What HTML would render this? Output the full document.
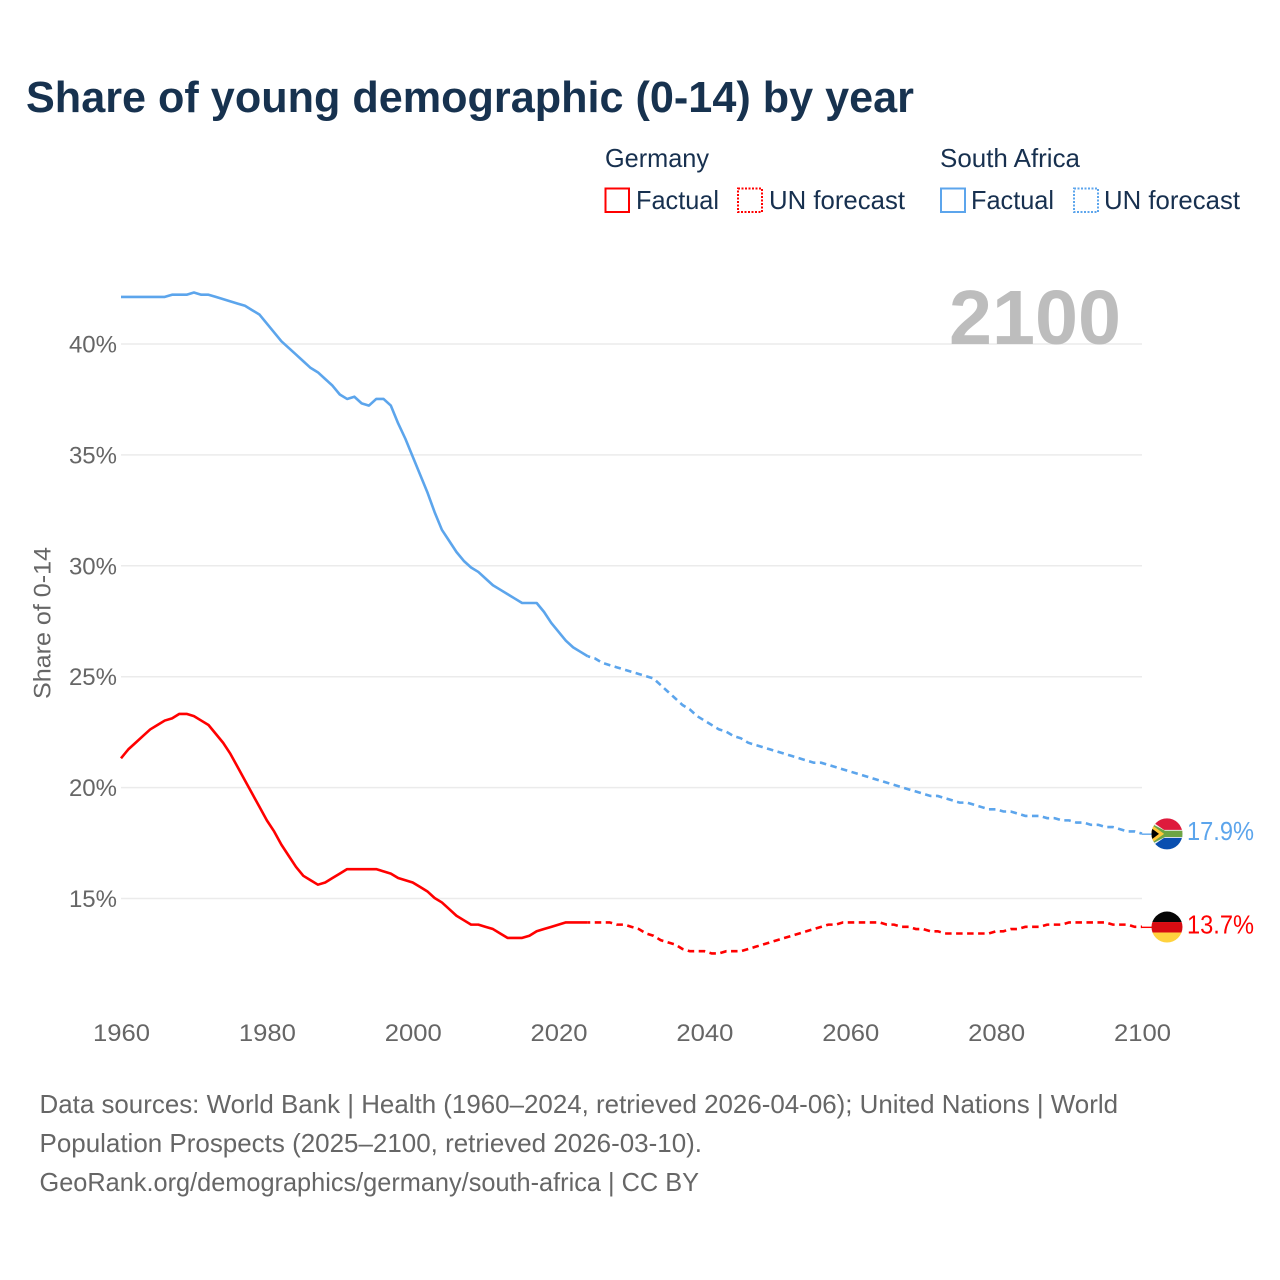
<!DOCTYPE html>
<html lang="en">
<head>
<meta charset="utf-8">
<title>Share of young demographic (0-14) by year</title>
<style>
html,body{margin:0;padding:0;background:#fff}
svg{display:block;font-family:"Liberation Sans",sans-serif}
</style>
</head>
<body>
<svg id="chart" xmlns="http://www.w3.org/2000/svg" width="1280" height="1280" viewBox="0 0 1280 1280">
  <defs>
    <clipPath id="flag-clip"><circle cx="0" cy="0" r="15.5"/></clipPath>
  </defs>
  <rect width="1280" height="1280" fill="#fff"/>

  <text x="26" y="112" font-size="44" font-weight="700" fill="#17324f" textLength="888" lengthAdjust="spacingAndGlyphs">Share of young demographic (0-14) by year</text>

  <g font-size="26" fill="#17304f">
    <text x="605" y="167" textLength="104" lengthAdjust="spacingAndGlyphs">Germany</text>
    <text x="940" y="167" textLength="140" lengthAdjust="spacingAndGlyphs">South Africa</text>
    <rect x="605.5" y="188.5" width="23.5" height="23.5" fill="none" stroke="#ff0000" stroke-width="2"/>
    <text x="636" y="209" textLength="83" lengthAdjust="spacingAndGlyphs">Factual</text>
    <rect x="738" y="188.5" width="24" height="23.5" fill="none" stroke="#ff0000" stroke-width="2" stroke-dasharray="2 1.5"/>
    <text x="769" y="209" textLength="136" lengthAdjust="spacingAndGlyphs">UN forecast</text>
    <rect x="941" y="188.5" width="24" height="23.5" fill="none" stroke="#5ca5ec" stroke-width="2"/>
    <text x="971" y="209" textLength="83" lengthAdjust="spacingAndGlyphs">Factual</text>
    <rect x="1074" y="188.5" width="24" height="23.5" fill="none" stroke="#5ca5ec" stroke-width="2" stroke-dasharray="2 1.5"/>
    <text x="1104" y="209" textLength="136" lengthAdjust="spacingAndGlyphs">UN forecast</text>
  </g>

  <g id="grid"></g>

  <text x="949" y="344" font-size="77" font-weight="700" fill="#bdbdbd" textLength="172" lengthAdjust="spacingAndGlyphs">2100</text>

  <g id="y-ticks" font-size="24" fill="#666666"></g>
  <g id="x-ticks" font-size="24" fill="#666666"></g>
  <text transform="translate(50.5,623) rotate(-90)" text-anchor="middle" font-size="24" fill="#666666" textLength="152" lengthAdjust="spacingAndGlyphs">Share of 0-14</text>

  <g id="series"></g>

  <g id="flag-za">
    <g clip-path="url(#flag-clip)">
      <rect x="-16" y="-16" width="32" height="16" fill="#de1b3d"/>
      <rect x="-16" y="0" width="32" height="16" fill="#0a4fb0"/>
      <path d="M-16,-13 L-3,-4 H16 V4 H-3 L-16,13 Z" fill="#f2f2f2"/>
      <path d="M-16,-10 L-2,-2.6 H16 V2.6 H-2 L-16,10 Z" fill="#6da544" stroke="#6da544" stroke-width="1"/>
      <path d="M-16,-8 L-5,0 L-16,8 Z" fill="#ffc73a" stroke="#ffc73a" stroke-width="2.5"/>
      <path d="M-16,-6 L-8,0 L-16,6 Z" fill="#000"/>
    </g>
  </g>
  <g id="flag-de">
    <g clip-path="url(#flag-clip)">
      <rect x="-16" y="-16" width="32" height="11" fill="#050505"/>
      <rect x="-16" y="-5" width="32" height="10.5" fill="#d80c12"/>
      <rect x="-16" y="5.5" width="32" height="11" fill="#ffd23e"/>
    </g>
  </g>
  <text id="value-za" x="1187" font-size="26" fill="#5ca5ec" textLength="67" lengthAdjust="spacingAndGlyphs"></text>
  <text id="value-de" x="1187" font-size="26" fill="#ff0000" textLength="67" lengthAdjust="spacingAndGlyphs"></text>

  <g font-size="26" fill="#666666">
    <text x="39.5" y="1113" textLength="1078.5" lengthAdjust="spacingAndGlyphs">Data sources: World Bank | Health (1960–2024, retrieved 2026-04-06); United Nations | World</text>
    <text x="39.5" y="1152" textLength="662.5" lengthAdjust="spacingAndGlyphs">Population Prospects (2025–2100, retrieved 2026-03-10).</text>
    <text x="39.5" y="1191" textLength="659.5" lengthAdjust="spacingAndGlyphs">GeoRank.org/demographics/germany/south-africa | CC BY</text>
  </g>
</svg>
<script>
const firstYear = 1960;
const lastFactualYear = 2024;
const xTickYears = [1960, 1980, 2000, 2020, 2040, 2060, 2080, 2100];
const yTickValues = [15, 20, 25, 30, 35, 40];
const southAfricaShare = [
  42.1,42.1,42.1,42.1,42.1,42.1,42.1,42.2,42.2,42.2,
  42.3,42.2,42.2,42.1,42.0,41.9,41.8,41.7,41.5,41.3,
  40.9,40.5,40.1,39.8,39.5,39.2,38.9,38.7,38.4,38.1,
  37.7,37.5,37.6,37.3,37.2,37.5,37.5,37.2,36.4,35.7,
  34.9,34.1,33.3,32.4,31.6,31.1,30.6,30.2,29.9,29.7,
  29.4,29.1,28.9,28.7,28.5,28.3,28.3,28.3,27.9,27.4,
  27.0,26.6,26.3,26.1,25.9,25.8,25.6,25.5,25.4,25.3,
  25.2,25.1,25.0,24.9,24.6,24.3,24.0,23.7,23.5,23.2,
  23.0,22.8,22.6,22.5,22.3,22.2,22.0,21.9,21.8,21.7,
  21.6,21.5,21.4,21.3,21.2,21.1,21.1,21.0,20.9,20.8,
  20.7,20.6,20.5,20.4,20.3,20.2,20.1,20.0,19.9,19.8,
  19.7,19.6,19.6,19.5,19.4,19.3,19.3,19.2,19.1,19.0,
  19.0,18.9,18.9,18.8,18.7,18.7,18.7,18.6,18.6,18.5,
  18.5,18.4,18.4,18.3,18.3,18.2,18.2,18.1,18.0,18.0,
  17.9
];
const germanyShare = [
  21.3,21.7,22.0,22.3,22.6,22.8,23.0,23.1,23.3,23.3,
  23.2,23.0,22.8,22.4,22.0,21.5,20.9,20.3,19.7,19.1,
  18.5,18.0,17.4,16.9,16.4,16.0,15.8,15.6,15.7,15.9,
  16.1,16.3,16.3,16.3,16.3,16.3,16.2,16.1,15.9,15.8,
  15.7,15.5,15.3,15.0,14.8,14.5,14.2,14.0,13.8,13.8,
  13.7,13.6,13.4,13.2,13.2,13.2,13.3,13.5,13.6,13.7,
  13.8,13.9,13.9,13.9,13.9,13.9,13.9,13.9,13.8,13.8,
  13.7,13.6,13.4,13.3,13.1,13.0,12.9,12.7,12.6,12.6,
  12.6,12.5,12.5,12.6,12.6,12.6,12.7,12.8,12.9,13.0,
  13.1,13.2,13.3,13.4,13.5,13.6,13.7,13.8,13.8,13.9,
  13.9,13.9,13.9,13.9,13.9,13.8,13.8,13.7,13.7,13.6,
  13.6,13.5,13.5,13.4,13.4,13.4,13.4,13.4,13.4,13.4,
  13.5,13.5,13.6,13.6,13.7,13.7,13.7,13.8,13.8,13.8,
  13.9,13.9,13.9,13.9,13.9,13.9,13.8,13.8,13.8,13.7,
  13.7
];

const SVG_NS = 'http://www.w3.org/2000/svg';
function xScale(year) { return 121 + (year - 1960) * (1142 - 121) / 140; }
function yScale(v) { return 344 + (40 - v) * (898.5 - 344) / 25; }
function pathFor(values, fromYear, toYear) {
  let d = '';
  for (let yr = fromYear; yr <= toYear; yr++) {
    const v = values[yr - firstYear];
    d += (d ? 'L' : 'M') + xScale(yr).toFixed(2) + ',' + (yScale(v) - 0.5).toFixed(2);
  }
  return d;
}

const gridGroup = document.getElementById('grid');
const yTickGroup = document.getElementById('y-ticks');
const xTickGroup = document.getElementById('x-ticks');
const seriesGroup = document.getElementById('series');

yTickValues.forEach(function (v) {
  const line = document.createElementNS(SVG_NS, 'line');
  
  
  line.setAttribute('x1', xScale(firstYear));
  line.setAttribute('x2', xScale(2100));
  line.setAttribute('y1', yScale(v));
  line.setAttribute('y2', yScale(v));
  line.setAttribute('stroke', '#ebebeb');
  line.setAttribute('stroke-width', '1.5');
  gridGroup.appendChild(line);

  const label = document.createElementNS(SVG_NS, 'text');
  
  
  label.setAttribute('x', '117');
  label.setAttribute('y', yScale(v) + 8.5);
  label.setAttribute('text-anchor', 'end');
  label.textContent = v + '%';
  yTickGroup.appendChild(label);
});

xTickYears.forEach(function (yr) {
  const label = document.createElementNS(SVG_NS, 'text');
  
  
  label.setAttribute('x', xScale(yr) + 0.5);
  label.setAttribute('y', '1041');
  label.setAttribute('text-anchor', 'middle');
  label.setAttribute('textLength', '57');
  label.setAttribute('lengthAdjust', 'spacingAndGlyphs');
  label.textContent = yr;
  xTickGroup.appendChild(label);
});

[['germany', germanyShare, '#ff0000'], ['south-africa', southAfricaShare, '#5ca5ec']].forEach(function (s) {
  const slug = s[0];
  const values = s[1];
  const color = s[2];
  const lastYear = firstYear + values.length - 1;

  const factual = document.createElementNS(SVG_NS, 'path');
  
  
  factual.setAttribute('d', pathFor(values, firstYear, lastFactualYear));
  factual.setAttribute('fill', 'none');
  factual.setAttribute('stroke', color);
  factual.setAttribute('stroke-width', '2.6');
  factual.setAttribute('stroke-linejoin', 'round');
  seriesGroup.appendChild(factual);

  const forecast = document.createElementNS(SVG_NS, 'path');
  
  
  forecast.setAttribute('d', pathFor(values, lastFactualYear, lastYear));
  forecast.setAttribute('fill', 'none');
  forecast.setAttribute('stroke', color);
  forecast.setAttribute('stroke-width', '2.6');
  forecast.setAttribute('stroke-dasharray', '6.5 4.5');
  forecast.setAttribute('stroke-dashoffset', '-7');
  seriesGroup.appendChild(forecast);

  const connector = document.createElementNS(SVG_NS, 'line');
  
  
  connector.setAttribute('x1', xScale(lastYear));
  connector.setAttribute('x2', '1153');
  connector.setAttribute('y1', yScale(values[values.length - 1]));
  connector.setAttribute('y2', yScale(values[values.length - 1]));
  connector.setAttribute('stroke', color);
  connector.setAttribute('stroke-width', '1.4');
  seriesGroup.appendChild(connector);
});

function placeEnd(flagId, valueId, values) {
  const last = values[values.length - 1];
  const y = yScale(last);
  document.getElementById(flagId).setAttribute('transform', 'translate(1167,' + (y - 0.3).toFixed(2) + ')');
  const label = document.getElementById(valueId);
  label.setAttribute('y', (y + 6).toFixed(2));
  label.textContent = last.toFixed(1) + '%';
}
placeEnd('flag-za', 'value-za', southAfricaShare);
placeEnd('flag-de', 'value-de', germanyShare);
</script>
</body>
</html>
